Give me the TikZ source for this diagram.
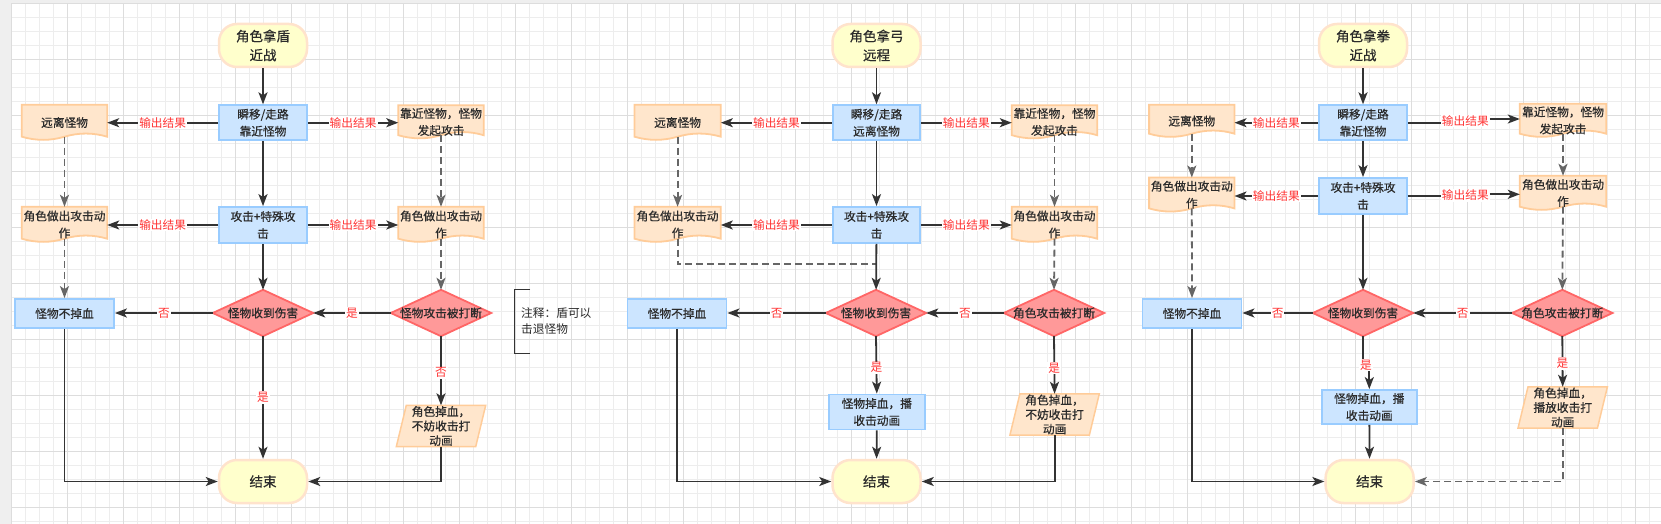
\documentclass[tikz,border=0pt]{standalone}
\usepackage{fontspec}
\setmainfont{Noto Sans CJK SC}
\newfontfamily\nfont{Noto Sans CJK SC}[FakeBold=0.6]
\usetikzlibrary{arrows.meta,calc}
\definecolor{txt}{HTML}{2B2B2B}
\definecolor{lnk}{HTML}{333333}
\definecolor{dsh}{HTML}{666666}
\definecolor{bluef}{HTML}{CCE5FF}
\definecolor{blued}{HTML}{99CCFF}
\definecolor{orf}{HTML}{FFE6CC}
\definecolor{ord}{HTML}{FFCC99}
\definecolor{yef}{HTML}{FFFFCC}
\definecolor{yed}{HTML}{FFE3CC}
\definecolor{diaf}{HTML}{FF9999}
\definecolor{diad}{HTML}{FF6666}
\definecolor{labc}{HTML}{FF3333}
\definecolor{gmin}{HTML}{EDEDED}
\definecolor{gmaj}{HTML}{DDDDDD}
\definecolor{side}{HTML}{EFEFEF}
\pgfdeclarelayer{gridl}\pgfdeclarelayer{shp}\pgfsetlayers{gridl,shp,main}
\newcommand\diashape[1]{\filldraw[fill=diaf, draw=diad, line width=1.8pt, line join=miter] (#1.north) -- (#1.east) -- (#1.south) -- (#1.west) -- cycle;}
\newcommand\parashape[1]{\filldraw[fill=orf, draw=ord, line width=1.5pt] ($(#1.north west)+(10pt,0pt)$) -- (#1.north east) -- ($(#1.south east)+(-10pt,0pt)$) -- (#1.south west) -- cycle;}
\newcommand\docshape[1]{%
 \filldraw[fill=orf, draw=ord, line width=1.8pt]
 (#1.north west) -- (#1.north east) -- ($(#1.south east)+(0pt,3.5pt)$)
 .. controls ($(#1.south east)!0.1667!(#1.south west)+(0pt,7.7pt)$) and ($(#1.south east)!0.3333!(#1.south west)+(0pt,7.7pt)$) .. ($(#1.south east)!0.5!(#1.south west)+(0pt,3.5pt)$)
 .. controls ($(#1.south east)!0.6667!(#1.south west)+(0pt,-0.7pt)$) and ($(#1.south east)!0.8333!(#1.south west)+(0pt,-0.7pt)$) .. ($(#1.south west)+(0pt,3.5pt)$) -- cycle;}
\tikzset{
 every node/.style={text=txt, font=\nfont\fontsize{11.7}{17}\selectfont, inner sep=1pt, align=center},
 term/.style={rectangle, rounded corners=18pt, fill=yef, draw=yed, line width=2.5pt, minimum width=88pt, minimum height=43pt, font=\nfont\fontsize{13.5}{19}\selectfont},
 proc/.style={rectangle, fill=bluef, draw=blued, line width=1.8pt},
 dia/.style={rectangle, minimum width=100pt, minimum height=46pt, inner sep=0pt},
 docn/.style={rectangle, minimum width=85pt, inner sep=0pt},
 para/.style={rectangle, minimum width=89pt, minimum height=41pt, inner sep=0pt, font=\nfont\fontsize{11.7}{14.5}\selectfont},
 ln/.style={draw=lnk, line width=1.8pt},
 arr/.style={draw=lnk, line width=1.8pt, -{Stealth[length=12pt,width=9pt,inset=3pt]}},
 dln/.style={draw=dsh, line width=1.8pt, dash pattern=on 7pt off 4pt},
 darr/.style={draw=dsh, line width=1.8pt, dash pattern=on 7pt off 4pt, -{Stealth[length=12pt,width=9pt,inset=3pt]}},
 lab/.style={text=labc, fill=white, inner sep=1pt, font=\rmfamily\fontsize{11.7}{14}\selectfont},
}
\begin{document}
\begin{tikzpicture}[x=1pt,y=-1pt]
\useasboundingbox (0,0) rectangle (1661,524);
\begin{pgfonlayer}{gridl}
\fill[side] (0,0) rectangle (1661,524);
\fill[white] (11.5,3.3) rectangle (1661,524);
\foreach \k in {0,...,117} \draw[gmin, line width=1pt] ({11.7+14*\k},3.3) -- ++(0,521);
\foreach \k in {0,...,37} \draw[gmin, line width=1pt] (11.5,{3.7+14*\k}) -- ++(1650,0);
\foreach \k in {0,...,29} \draw[gmaj, line width=1pt] ({11.7+56*\k},3.3) -- ++(0,521);
\foreach \k in {0,...,9} \draw[gmaj, line width=1pt] (11.5,{3.7+56*\k}) -- ++(1650,0);
\end{pgfonlayer}

% ================= Diagram 1 =================
\node[term] (S1) at (263,45.5) {角色拿盾\\近战};
\node[proc, minimum width=88pt, minimum height=35pt] (B11) at (263,122.7) {瞬移/走路\\靠近怪物};
\node[docn, minimum height=35pt] (L11) at (64.5,122.5) {远离怪物};
\node[docn, minimum height=33pt] (R11) at (441,122) {靠近怪物，怪物\\发起攻击};
\node[proc, minimum width=88pt, minimum height=36pt] (B12) at (263,225) {攻击+特殊攻\\击};
\node[docn, minimum height=35pt] (L12) at (64.5,224.5) {角色做出攻击动\\作};
\node[docn, minimum height=35pt] (R12) at (441,224.5) {角色做出攻击动\\作};
\node[proc, minimum width=99pt, minimum height=29pt] (N1) at (64.5,313.5) {怪物不掉血};
\node[dia] (D11) at (263,313) {怪物收到伤害};
\node[dia] (D12) at (441,313) {怪物攻击被打断};
\node[term] (E1) at (263,481.5) {结束};
\node[para] (P1) at (441,426) {角色掉血，\\不妨收击打\\动画};
\draw[line width=1.5pt, draw=lnk] (530,289.3) -- (514.7,289.3) -- (514.7,353.3) -- (530,353.3);
\node[anchor=west, align=left, font=\rmfamily\fontsize{11.7}{16}\selectfont] (A1) at (520,321) {注释：盾可以\\击退怪物};

\draw[arr] (S1) -- (B11);
\draw[arr] (B11.west) -- (B11.west -| L11.east) node[lab, midway] {输出结果};
\draw[arr] (B11.east) -- (B11.east -| R11.west) node[lab, midway] {输出结果};
\draw[arr] (B11) -- (B12);
\draw[arr] (B12.west) -- (B12.west -| L12.east) node[lab, midway] {输出结果};
\draw[arr] (B12.east) -- (B12.east -| R12.west) node[lab, midway] {输出结果};
\draw[darr] ([yshift=3.5pt]L11.south) -- (L12.north);
\draw[darr] ([yshift=3.5pt]R11.south) -- (R12.north);
\draw[darr] ([yshift=3.5pt]L12.south) -- (N1.north);
\draw[darr] ([yshift=3.5pt]R12.south) -- (D12.north);
\draw[arr] (B12) -- (D11);
\draw[arr] (D12.west) -- (D11.east) node[lab, midway] {是};
\draw[arr] (D11.west) -- (D11.west -| N1.east) node[lab, midway] {否};
\draw[arr] (D11.south) -- (E1.north) node[lab, midway] {是};
\draw[arr] (D12.south) -- (P1.north) node[lab, pos=0.53] {否};
\draw[arr] (N1.south) |- (E1.west);
\draw[arr] (P1.south) |- (E1.east);

% ================= Diagram 2 =================
\node[term] (S2) at (876.5,45.5) {角色拿弓\\远程};
\node[proc, minimum width=87pt, minimum height=35pt] (B21) at (876.5,122.7) {瞬移/走路\\远离怪物};
\node[docn, minimum width=86pt, minimum height=35pt] (L21) at (677.6,122.5) {远离怪物};
\node[docn, minimum height=33pt] (R21) at (1054.5,122) {靠近怪物，怪物\\发起攻击};
\node[proc, minimum width=87pt, minimum height=36pt] (B22) at (876.5,225) {攻击+特殊攻\\击};
\node[docn, minimum width=86pt, minimum height=35pt] (L22) at (677.6,224.5) {角色做出攻击动\\作};
\node[docn, minimum height=35pt] (R22) at (1054.5,224.5) {角色做出攻击动\\作};
\node[proc, minimum width=99pt, minimum height=29pt] (N2) at (677,313.5) {怪物不掉血};
\node[dia] (D21) at (876,313) {怪物收到伤害};
\node[dia] (D22) at (1054,313) {角色攻击被打断};
\node[proc, minimum width=96pt, minimum height=35pt] (M2) at (876.8,412) {怪物掉血，播\\收击动画};
\node[para] (P2) at (1054.6,414.5) {角色掉血，\\不妨收击打\\动画};
\node[term] (E2) at (876.5,481.5) {结束};
\coordinate (J2) at (876.5,264);

\draw[arr] (S2) -- (B21);
\draw[arr] (B21.west) -- (B21.west -| L21.east) node[lab, midway] {输出结果};
\draw[arr] (B21.east) -- (B21.east -| R21.west) node[lab, midway] {输出结果};
\draw[arr] (B21) -- (B22);
\draw[arr] (B22.west) -- (B22.west -| L22.east) node[lab, midway] {输出结果};
\draw[arr] (B22.east) -- (B22.east -| R22.west) node[lab, midway] {输出结果};
\draw[darr] ([yshift=3.5pt]L21.south) -- (L22.north);
\draw[darr] ([yshift=3.5pt]R21.south) -- (R22.north);
\draw[dln] ([yshift=3.5pt]L22.south) |- (J2);
\draw[darr] ([yshift=3.5pt]R22.south) -- (D22.north);
\draw[arr] (B22) -- (D21);
\draw[arr] (D22.west) -- (D21.east) node[lab, midway] {否};
\draw[arr] (D21.west) -- (D21.west -| N2.east) node[lab, midway] {否};
\draw[arr] (D21.south) -- (M2.north) node[lab, pos=0.55] {是};
\draw[arr] (M2) -- (E2);
\draw[arr] (D22.south) -- (P2.north) node[lab, pos=0.55] {是};
\draw[arr] (N2.south) |- (E2.west);
\draw[arr] (P2.south) |- (E2.east);

% ================= Diagram 3 =================
\node[term] (S3) at (1363,45.5) {角色拿拳\\近战};
\node[proc, minimum width=88pt, minimum height=35pt] (B31) at (1363,122.7) {瞬移/走路\\靠近怪物};
\node[docn, minimum height=32pt] (L31) at (1191.8,121) {远离怪物};
\node[docn, minimum width=86pt, minimum height=33pt] (R31) at (1563,120.5) {靠近怪物，怪物\\发起攻击};
\node[proc, minimum width=88pt, minimum height=36pt] (B32) at (1363,196) {攻击+特殊攻\\击};
\node[docn, minimum height=34pt] (L32) at (1191.8,194.7) {角色做出攻击动\\作};
\node[docn, minimum width=86pt, minimum height=34pt] (R32) at (1563,193) {角色做出攻击动\\作};
\node[proc, minimum width=99pt, minimum height=29pt] (N3) at (1192,313.5) {怪物不掉血};
\node[dia] (D31) at (1363,313) {怪物收到伤害};
\node[dia] (D32) at (1562.3,313) {角色攻击被打断};
\node[proc, minimum width=95pt, minimum height=34pt] (M3) at (1369.3,407) {怪物掉血，播\\收击动画};
\node[para] (P3) at (1562.7,407.5) {角色掉血，\\播放收击打\\动画};
\node[term] (E3) at (1369.6,481.5) {结束};
\node[lab] (K31) at (1465.3,121) {输出结果};
\node[lab] (K32) at (1465.3,195.5) {输出结果};
\node[lab] (K33) at (1366,365) {是};

\draw[arr] (S3) -- (B31);
\draw[arr] (B31.west) -- (B31.west -| L31.east) node[lab, midway] {输出结果};
\draw[ln] (B31.east) -- (B31.east -| K31.west);
\draw[arr] (K31.east |- 0,119) -- (R31.west |- 0,119);
\draw[arr] (B31) -- (B32);
\draw[arr] (B32.west) -- (B32.west -| L32.east) node[lab, midway] {输出结果};
\draw[ln] (B32.east) -- (B32.east -| K32.west);
\draw[arr] (K32.east |- 0,194.3) -- (R32.west |- 0,194.3);
\draw[darr] ([yshift=3.5pt]L31.south) -- (L32.north);
\draw[darr] ([yshift=3.5pt]R31.south) -- (R32.north);
\draw[darr] ([yshift=3.5pt]L32.south) -- (N3.north);
\draw[darr] ([yshift=3.5pt]R32.south) -- (D32.north);
\draw[arr] (B32) -- (D31);
\draw[arr] (D32.west) -- (D31.east) node[lab, midway] {否};
\draw[arr] (D31.west) -- (D31.west -| N3.east) node[lab, midway] {否};
\draw[ln] (D31.south) -- (D31.south |- K33.north);
\draw[arr] (K33.south -| M3.north) -- (M3.north);
\draw[arr] (M3) -- (E3);
\draw[arr] (D32.south) -- (P3.north) node[lab, pos=0.54] {是};
\draw[arr] (N3.south) |- (E3.west);
\draw[darr] (P3.south) |- (E3.east);

\begin{pgfonlayer}{shp}
\docshape{L11}\docshape{R11}\docshape{L12}\docshape{R12}
\docshape{L21}\docshape{R21}\docshape{L22}\docshape{R22}
\docshape{L31}\docshape{R31}\docshape{L32}\docshape{R32}
\diashape{D11}\diashape{D12}\diashape{D21}\diashape{D22}\diashape{D31}\diashape{D32}
\parashape{P1}\parashape{P2}\parashape{P3}
\end{pgfonlayer}
\end{tikzpicture}
\end{document}
